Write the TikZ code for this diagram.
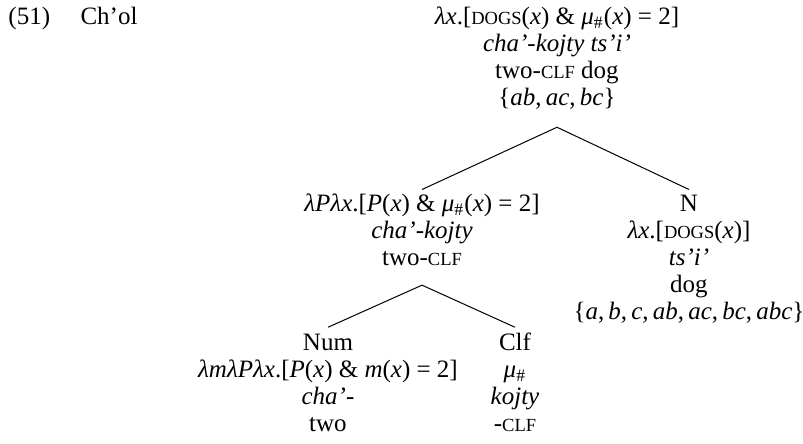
\documentclass[tikz,border=0pt]{standalone}
\usepackage{fontspec}
\setmainfont{Liberation Serif}
\newcommand{\fsc}[1]{{\fontsize{7.4}{8}\selectfont #1}}
\newcommand{\vi}[1]{\textit{#1}}
\newcommand{\msub}{\textsubscript{\#}}

\begin{document}
\begin{tikzpicture}[x=0.4pt,y=-0.4pt,
	treenode/.style={anchor=north, align=center, inner sep=0pt, font=\fontsize{10}{10.8}\selectfont},
	exlabel/.style={anchor=base west, inner sep=0pt, font=\fontsize{10}{10.8}\selectfont}]
			\useasboundingbox (0,0) rectangle (803,443);
			
			%Example number
			\node[exlabel] (exnum) at (8,24) {(51)};
			\node[exlabel] (lang) at (80,24) {Ch’ol};
			
			%Root
			\node[treenode] (root) at (557,5) {\strut\vi{λx}.[\fsc{DOGS}(\vi{x}) \& \vi{μ}\msub(\vi{x}) = 2]\\ \vi{cha’-kojty ts’i’}\\ two-\fsc{CLF} dog\\ \{\vi{ab},\,\vi{ac},\,\vi{bc}\}};
			
			%Daughters of root
			\node[treenode] (numclf) at (422,192) {\strut\vi{λPλx}.[\vi{P}(\vi{x}) \& \vi{μ}\msub(\vi{x}) = 2]\\ \vi{cha’-kojty}\\ two-\fsc{CLF}};
			\node[treenode] (noun) at (689,192) {\strut N\\ \vi{λx}.[\fsc{DOGS}(\vi{x})]\\ \vi{ts’i’}\\ dog\\ \{\vi{a},\,\vi{b},\,\vi{c},\,\vi{ab},\,\vi{ac},\,\vi{bc},\,\vi{abc}\}};
			
			%Daughters of NumClf
			\node[treenode] (num) at (328,331) {\strut Num\\ \vi{λmλPλx}.[\vi{P}(\vi{x}) \& \vi{m}(\vi{x}) = 2]\\ \vi{cha’-}\\ two};
			\node[treenode] (clf) at (515,331) {\strut Clf\\ \vi{μ}\msub\\ \vi{kojty}\\ -\fsc{CLF}};
			
			%Branches
			\coordinate (rootapex) at ([yshift=-7pt]root.south);
			\coordinate (midapex) at ([yshift=-7.6pt]numclf.south);
			\draw (rootapex) -- ([yshift=1pt]numclf.north);
			\draw (rootapex) -- ([yshift=1pt]noun.north);
			\draw (midapex) -- ([yshift=1.5pt]num.north);
			\draw (midapex) -- ([yshift=1.5pt]clf.north);
\end{tikzpicture}
\end{document}
